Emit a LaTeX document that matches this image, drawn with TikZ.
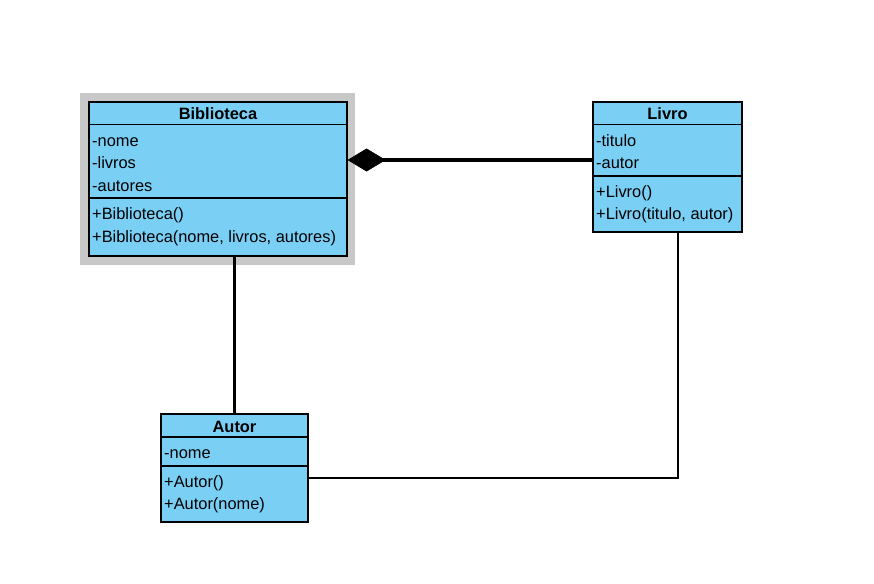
\documentclass[tikz,border=0pt]{standalone}
\usepackage{fontspec}
\setmainfont{Liberation Sans}
\usetikzlibrary{arrows.meta}
\definecolor{umlblue}{RGB}{122,207,245}
\definecolor{shadowgray}{RGB}{200,200,200}
\tikzset{
  classbox/.style={draw=black, line width=1.2pt, fill=umlblue, inner sep=0pt, rectangle},
  shadowbox/.style={fill=shadowgray, draw=none, inner sep=0pt, rectangle},
  divider/.style={draw=black, line width=1.2pt},
  hdr/.style={font=\fontsize{16.4}{20}\selectfont\bfseries, inner sep=0pt, anchor=base},
  member/.style={font=\fontsize{16.4}{20}\selectfont, inner sep=0pt, anchor=base west},
  strong/.style={line width=3.8pt},
  thin/.style={line width=1.3pt}
}
\begin{document}
\begin{tikzpicture}[x=1pt,y=-1pt]
\useasboundingbox[fill=white] (0,0) rectangle (874,583);

% Biblioteca
\node[shadowbox, minimum width=275pt, minimum height=172pt] (bibshadow) at (217.5,179) {};
\node[classbox, minimum width=258pt, minimum height=154pt] (bib) at (218,179) {};
\draw[divider] (89,124.5) -- (347,124.5);
\draw[divider] (89,198) -- (347,198);
\node[hdr] (bibh) at (218,119) {Biblioteca};
\node[member] (bib1) at (92,146) {-nome};
\node[member] (bib2) at (92,168) {-livros};
\node[member] (bib3) at (92,191) {-autores};
\node[member] (bib4) at (92,219) {+Biblioteca()};
\node[member] (bib5) at (92,242) {+Biblioteca(nome, livros, autores)};

% Livro
\node[classbox, minimum width=149pt, minimum height=130pt] (livro) at (667.5,167) {};
\draw[divider] (593,124.5) -- (742,124.5);
\draw[divider] (593,176) -- (742,176);
\node[hdr] (livroh) at (667.5,120) {Livro};
\node[member] (livro1) at (596,146) {-titulo};
\node[member] (livro2) at (596,168) {-autor};
\node[member] (livro3) at (596,197) {+Livro()};
\node[member] (livro4) at (596,219) {+Livro(titulo, autor)};

% Autor
\node[classbox, minimum width=147pt, minimum height=108pt] (autor) at (234.5,468) {};
\draw[divider] (161,437) -- (308,437);
\draw[divider] (161,466) -- (308,466);
\node[hdr] (autorh) at (234.5,432) {Autor};
\node[member] (autor1) at (164,458) {-nome};
\node[member] (autor2) at (164,487) {+Autor()};
\node[member] (autor3) at (164,509) {+Autor(nome)};

% Connectors
\draw[strong, -{Diamond[length=38pt,width=23pt,line width=0.5pt,sep=0pt]}]
  ([yshift=7pt]livro.west) -- ([yshift=19pt]bib.east);
\draw[strong] (autor.north) -- (autor.north |- bib.south);
\draw[thin] ([xshift=10.5pt]livro.south) |- ([yshift=-10pt]autor.east);
\end{tikzpicture}
\end{document}
